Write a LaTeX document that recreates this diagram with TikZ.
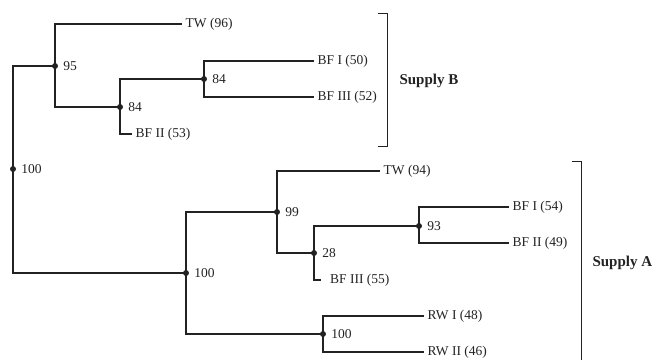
\documentclass[tikz,border=0pt]{standalone}
\usepackage{fontspec}
\setmainfont{Liberation Serif}
\usepackage{tikz}
\usetikzlibrary{positioning}
\definecolor{tLine}{HTML}{222222}

\begin{document}
\begin{tikzpicture}[x=1pt, y=-1pt,
    every node/.style={font=\fontsize{13.5}{15}\selectfont, text=tLine},
    branch/.style={draw=tLine, line width=1.2pt},
    dot/.style={circle, fill=tLine, inner sep=0pt, minimum size=6pt,
      label={[inner sep=0pt, label distance=5pt]right:#1}},
    leaf/.style={anchor=west, inner sep=3.5pt},
    supply/.style={anchor=west, font=\fontsize{15}{17}\selectfont\bfseries}]
    \useasboundingbox (0,0) rectangle (654,360);
    % inner nodes
    \node[dot=100] (root) at (13,169) {};
    \node[dot=95] (n95) at (55,66) {};
    \node[dot=84] (nB84a) at (120,107) {};
    \node[dot=84] (nB84b) at (204,79) {};
    \node[dot=100] (nA100) at (186,273) {};
    \node[dot=99] (n99) at (277,212) {};
    \node[dot=28] (n28) at (314,253) {};
    \node[dot=93] (n93) at (419,226) {};
    \node[dot=100] (nRW) at (323,334) {};
    % leaves
    \node[leaf] (tw96) at (182,24) {TW (96)};
    \node[leaf] (bf53) at (132,134) {BF II (53)};
    \node[leaf] (bf50) at (314,61) {BF I (50)};
    \node[leaf] (bf52) at (314,97) {BF III (52)};
    \node[leaf] (tw94) at (380,171) {TW (94)};
    \node[leaf, inner xsep=9pt] (bf55) at (321,280) {BF III (55)};
    \node[leaf] (bf54) at (509,207) {BF I (54)};
    \node[leaf] (bf49) at (509,243) {BF II (49)};
    \node[leaf] (rw48) at (424,316) {RW I (48)};
    \node[leaf] (rw46) at (424,352) {RW II (46)};
    % branches
    \draw[branch] (root.center) |- (n95.center);
    \draw[branch] (root.center) |- (nA100.center);
    \draw[branch] (n95.center) |- (tw96.west);
    \draw[branch] (n95.center) |- (nB84a.center);
    \draw[branch] (nB84a.center) |- (nB84b.center);
    \draw[branch] (nB84a.center) |- (bf53.west);
    \draw[branch] (nB84b.center) |- (bf50.west);
    \draw[branch] (nB84b.center) |- (bf52.west);
    \draw[branch] (nA100.center) |- (n99.center);
    \draw[branch] (nA100.center) |- (nRW.center);
    \draw[branch] (n99.center) |- (tw94.west);
    \draw[branch] (n99.center) |- (n28.center);
    \draw[branch] (n28.center) |- (n93.center);
    \draw[branch] (n28.center) |- (bf55.west);
    \draw[branch] (n93.center) |- (bf54.west);
    \draw[branch] (n93.center) |- (bf49.west);
    \draw[branch] (nRW.center) |- (rw48.west);
    \draw[branch] (nRW.center) |- (rw46.west);
    % supply brackets
    \coordinate (bTop) at (387,13);
    \coordinate (bBot) at (387,146);
    \coordinate (aTop) at (581,161);
    \coordinate (aBot) at (581,360);
    \draw[branch, line width=0.9pt] ([xshift=-9pt]bTop) -- (bTop) -- (bBot) -- ([xshift=-9pt]bBot);
    \draw[branch, line width=0.9pt] ([xshift=-9pt]aTop) -- (aTop) -- (aBot);
    \node[supply] (supB) at (396,81) {Supply B};
    \node[supply] (supA) at (589,263) {Supply A};
  \end{tikzpicture}
\end{document}
